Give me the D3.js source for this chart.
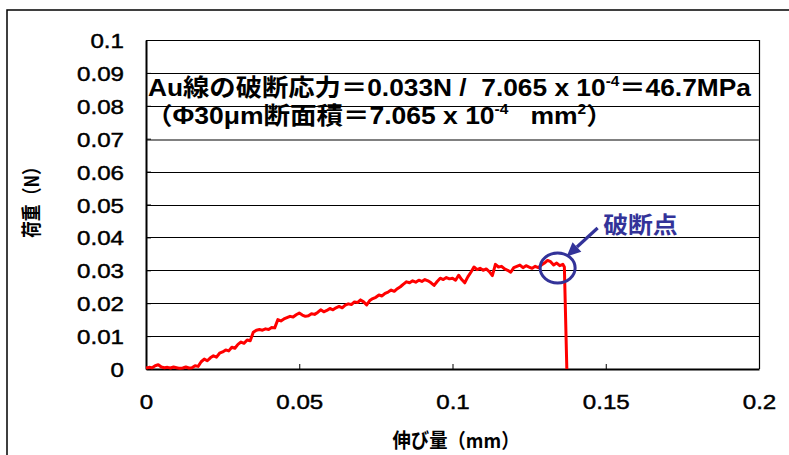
<!DOCTYPE html>
<html>
<head>
<meta charset="utf-8">
<script src="https://cdn.jsdelivr.net/npm/d3@7"></script>
<style>
  html, body { margin: 0; padding: 0; background: #fff; }
  svg { display: block; }
  text { white-space: pre; }
</style>
</head>
<body>
<svg id="chart" width="789" height="455"></svg>
<script>
// Tensile test of a 30 µm Au wire: elongation (mm) vs load (N)
const elongation = [
  0.000, 0.001, 0.002, 0.003, 0.004, 0.005, 0.006, 0.007, 0.008, 0.009,
  0.010, 0.011, 0.012, 0.013, 0.014, 0.015, 0.016, 0.017, 0.018, 0.019,
  0.020, 0.021, 0.022, 0.023, 0.024, 0.025, 0.026, 0.027, 0.028, 0.029,
  0.030, 0.031, 0.032, 0.033, 0.034, 0.035, 0.036, 0.037, 0.038, 0.039,
  0.040, 0.041, 0.042, 0.043, 0.044, 0.045, 0.046, 0.047, 0.048, 0.049,
  0.050, 0.051, 0.052, 0.053, 0.054, 0.055, 0.056, 0.057, 0.058, 0.059,
  0.060, 0.061, 0.062, 0.063, 0.064, 0.065, 0.066, 0.067, 0.068, 0.069,
  0.070, 0.071, 0.072, 0.073, 0.074, 0.075, 0.076, 0.077, 0.078, 0.079,
  0.080, 0.081, 0.082, 0.083, 0.084, 0.085, 0.086, 0.087, 0.088, 0.089,
  0.090, 0.091, 0.092, 0.093, 0.094, 0.095, 0.096, 0.097, 0.098, 0.099,
  0.100, 0.101, 0.102, 0.103, 0.104, 0.105, 0.106, 0.107, 0.108, 0.109,
  0.110, 0.111, 0.112, 0.113, 0.114, 0.115, 0.116, 0.117, 0.118, 0.119,
  0.120, 0.121, 0.122, 0.123, 0.124, 0.125, 0.126, 0.127, 0.128, 0.129,
  0.130, 0.131, 0.132, 0.133, 0.134, 0.135, 0.136, 0.1365, 0.1373
];
const load = [
  0.0003, 0.0005, 0.0004, 0.0010, 0.0013, 0.0006, 0.0004, 0.0005, 0.0003, 0.0006,
  0.0004, 0.0002, 0.0003, 0.0006, 0.0003, 0.0004, 0.0010, 0.0008, 0.0022, 0.0030,
  0.0025, 0.0034, 0.0040, 0.0036, 0.0048, 0.0052, 0.0058, 0.0055, 0.0066, 0.0063,
  0.0075, 0.0082, 0.0078, 0.0088, 0.0086, 0.0112, 0.0118, 0.0120, 0.0118, 0.0122,
  0.0120, 0.0126, 0.0125, 0.0150, 0.0146, 0.0152, 0.0156, 0.0160, 0.0158, 0.0165,
  0.0170, 0.0164, 0.0160, 0.0162, 0.0168, 0.0166, 0.0172, 0.0180, 0.0174, 0.0178,
  0.0184, 0.0180, 0.0186, 0.0190, 0.0186, 0.0194, 0.0198, 0.0196, 0.0204, 0.0202,
  0.0210, 0.0204, 0.0195, 0.0208, 0.0214, 0.0218, 0.0225, 0.0222, 0.0230, 0.0234,
  0.0240, 0.0236, 0.0244, 0.0250, 0.0258, 0.0265, 0.0262, 0.0268, 0.0264, 0.0270,
  0.0266, 0.0272, 0.0268, 0.0262, 0.0254, 0.0266, 0.0276, 0.0272, 0.0278, 0.0274,
  0.0276, 0.0270, 0.0285, 0.0272, 0.0262, 0.0280, 0.0294, 0.0310, 0.0302, 0.0306,
  0.0300, 0.0304, 0.0296, 0.0284, 0.0318, 0.0310, 0.0312, 0.0304, 0.0300, 0.0294,
  0.0308, 0.0312, 0.0316, 0.0308, 0.0314, 0.0310, 0.0306, 0.0312, 0.0308, 0.0316,
  0.0322, 0.0330, 0.0326, 0.0316, 0.0322, 0.0314, 0.0318, 0.0310, 0.0000
];

const xTickValues = [0, 0.05, 0.1, 0.15, 0.2];
const xTickLabels = ["0", "0.05", "0.1", "0.15", "0.2"];
const yTickValues = [0, 0.01, 0.02, 0.03, 0.04, 0.05, 0.06, 0.07, 0.08, 0.09, 0.1];
const yTickLabels = ["0", "0.01", "0.02", "0.03", "0.04", "0.05", "0.06", "0.07", "0.08", "0.09", "0.1"];

const xTitle = "伸び量（mm）";
const yTitle = "荷重（N）";
const breakLabel = "破断点";
// ring around the breaking point (elongation, load)
const breakRing = [0.1343, 0.0307];

const latinFont = "'Liberation Sans', Arial, 'Noto Sans CJK JP', sans-serif";
const cjkFont = "'Noto Sans CJK JP', 'Noto Sans CJK SC', sans-serif";
const navy = "#333399";
const stretch = 1.15;

const svg = d3.select("#chart");

// stretch a text node horizontally so its advance matches a given width
function fitWidth(textSel, width) {
  const w = textSel.node().getBBox().width;
  return width / w;
}

// outer frame
svg.append("rect")
  .attr("x", 7).attr("y", 10)
  .attr("width", 800).attr("height", 470)
  .attr("fill", "none").attr("stroke", "#000").attr("stroke-width", 1.5);

const plot = { left: 146, right: 759, top: 40, bottom: 369 };

const x = d3.scaleLinear().domain([0, 0.2]).range([plot.left, plot.right]);
const y = d3.scaleLinear().domain([0, 0.1]).range([plot.bottom, plot.top]);

// horizontal gridlines
svg.append("g")
  .selectAll("line")
  .data(yTickValues)
  .join("line")
  .attr("x1", plot.left).attr("x2", plot.right)
  .attr("y1", d => Math.round(y(d)) + 0.5).attr("y2", d => Math.round(y(d)) + 0.5)
  .attr("stroke", "#000").attr("stroke-width", 1);

// right border
svg.append("line")
  .attr("x1", plot.right + 0.5).attr("x2", plot.right + 0.5)
  .attr("y1", plot.top).attr("y2", plot.bottom)
  .attr("stroke", "#000").attr("stroke-width", 1.2);

// text box shadow below the annotation
svg.append("line")
  .attr("x1", plot.left).attr("x2", plot.right)
  .attr("y1", Math.round(y(0.07)) + 1).attr("y2", Math.round(y(0.07)) + 1)
  .attr("stroke", "#808080").attr("stroke-width", 2);

// axes
const yAxis = d3.axisLeft(y)
  .tickValues(yTickValues)
  .tickFormat((d, i) => yTickLabels[i])
  .tickSizeInner(-5).tickSizeOuter(0);
const gy = svg.append("g").attr("transform", `translate(${plot.left},0)`).call(yAxis);
gy.select(".domain").attr("stroke-width", 2);
gy.selectAll(".tick line").attr("stroke-width", 1);
gy.selectAll(".tick text")
  .attr("x", 0).attr("dy", null).attr("y", 0)
  .attr("transform", `translate(-22,7.5) scale(${stretch},1)`)
  .attr("text-anchor", "end")
  .attr("font-family", latinFont).attr("font-size", 21)
  .attr("fill", "#000").attr("stroke", "#000").attr("stroke-width", 0.45);

const xAxis = d3.axisBottom(x)
  .tickValues(xTickValues)
  .tickFormat((d, i) => xTickLabels[i])
  .tickSizeInner(-5).tickSizeOuter(0);
const gx = svg.append("g").attr("transform", `translate(0,${plot.bottom})`).call(xAxis);
gx.select(".domain").attr("stroke-width", 2);
gx.selectAll(".tick text")
  .attr("x", 0).attr("dy", null).attr("y", 0)
  .attr("transform", `translate(0,40) scale(${stretch},1)`)
  .attr("text-anchor", "middle")
  .attr("font-family", latinFont).attr("font-size", 21)
  .attr("fill", "#000").attr("stroke", "#000").attr("stroke-width", 0.45);
svg.selectAll(".domain, .tick line").attr("stroke", "#000");

// load curve
const line = d3.line().x((d, i) => x(elongation[i])).y(d => y(d));
svg.append("path")
  .datum(load)
  .attr("d", line)
  .attr("fill", "none")
  .attr("stroke", "#ff0000")
  .attr("stroke-width", 3)
  .attr("stroke-linejoin", "round");

// axis titles
const xt = svg.append("text")
  .attr("text-anchor", "middle")
  .attr("font-family", cjkFont).attr("font-weight", "bold").attr("font-size", 20)
  .attr("fill", "#000")
  .text(xTitle);
xt.attr("transform", `translate(456,448) scale(${fitWidth(xt, 127)},1)`);

const yt = svg.append("text")
  .attr("text-anchor", "middle")
  .attr("font-family", cjkFont).attr("font-weight", "bold").attr("font-size", 20)
  .attr("fill", "#000")
  .text(yTitle);
yt.attr("transform", `translate(39,198) rotate(-90) scale(${fitWidth(yt, 80)},1)`);

// stress calculation text, each line stretched to its box width
function richLine(parts, tx, ty, width) {
  const g = svg.append("g").attr("transform", `translate(${tx},${ty})`);
  const t = g.append("text")
    .attr("font-family", latinFont).attr("font-weight", "bold").attr("font-size", 24)
    .attr("fill", "#000");
  let shift = 0;
  parts.forEach(p => {
    const ts = t.append("tspan").text(p.s);
    if (p.sup) {
      ts.attr("font-size", 14).attr("dy", -10 - shift);
      shift = -10;
    } else {
      ts.attr("dy", -shift);
      shift = 0;
    }
  });
  t.attr("transform", `scale(${fitWidth(t, width)},1)`);
}

richLine([
  { s: "Au線の破断応力＝0.033N /  7.065 x 10" },
  { s: "-4", sup: true },
  { s: "＝46.7MPa" }
], 148, 96, 604);

richLine([
  { s: "（Φ30μm断面積＝7.065 x 10" },
  { s: "-4", sup: true },
  { s: "   mm" },
  { s: "2", sup: true },
  { s: "）" }
], 146, 124, 467);

// breaking point marker
const cx = x(breakRing[0]), cy = y(breakRing[1]);
svg.append("ellipse")
  .attr("cx", cx).attr("cy", cy)
  .attr("rx", 17.5).attr("ry", 15)
  .attr("fill", "none").attr("stroke", navy).attr("stroke-width", 3);

const tip = [cx + 9, cy - 11.5];
const tail = [cx + 40, cy - 40];
const ang = Math.atan2(tip[1] - tail[1], tip[0] - tail[0]);
const headLen = 14, headHalf = 6.5;
const base = [tip[0] - headLen * Math.cos(ang), tip[1] - headLen * Math.sin(ang)];
svg.append("line")
  .attr("x1", tail[0]).attr("y1", tail[1])
  .attr("x2", base[0]).attr("y2", base[1])
  .attr("stroke", navy).attr("stroke-width", 3.2);
svg.append("path")
  .attr("d", d3.line()([
    tip,
    [base[0] + headHalf * Math.sin(ang), base[1] - headHalf * Math.cos(ang)],
    [base[0] - headHalf * Math.sin(ang), base[1] + headHalf * Math.cos(ang)]
  ]) + "Z")
  .attr("fill", navy);

svg.append("text")
  .attr("transform", `translate(${cx + 45.5},${cy - 35}) scale(1.08,1)`)
  .attr("font-family", cjkFont).attr("font-weight", "bold").attr("font-size", 23)
  .attr("fill", navy)
  .text(breakLabel);
</script>
</body>
</html>
